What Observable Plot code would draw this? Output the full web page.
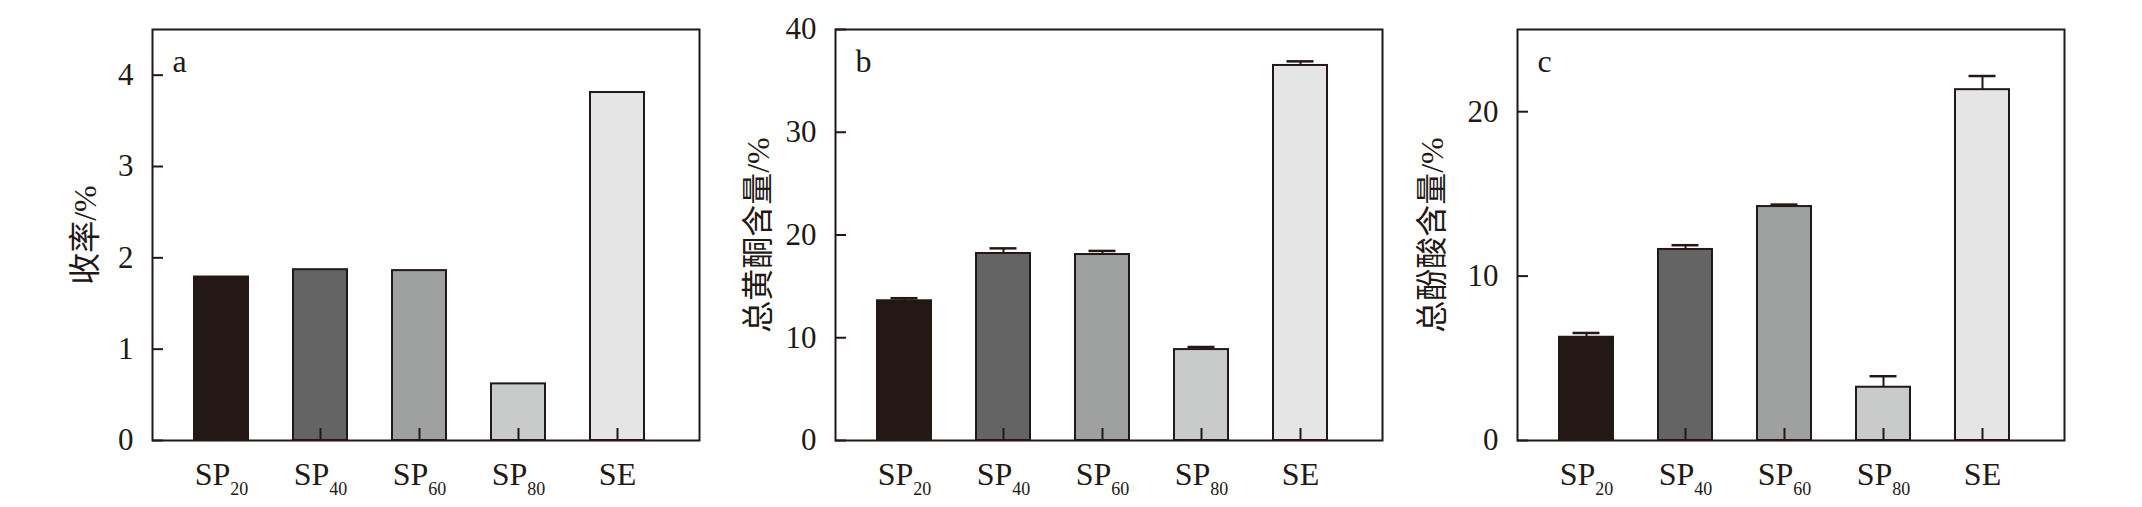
<!DOCTYPE html>
<html><head><meta charset="utf-8">
<script src="https://cdn.jsdelivr.net/npm/d3@7"></script>
<script src="https://cdn.jsdelivr.net/npm/@observablehq/plot@0.6"></script>
<style>
body{margin:0;background:#fff;}
#chart{position:relative;width:2142px;height:507px;overflow:hidden;background:#fff;}
#chart svg{position:absolute;top:0;}
</style></head><body><div id="chart"></div>
<script>
// ---- data ----
const categories = ["SP20", "SP40", "SP60", "SP80", "SE"];
const fills = ["#231816", "#656464", "#9fa0a0", "#c9caca", "#e5e5e5"];
const yieldValues = [1.79, 1.87, 1.86, 0.62, 3.81];
const flavonoidValues = [13.6, 18.2, 18.1, 8.85, 36.5];
const flavonoidErrors = [0.25, 0.5, 0.35, 0.25, 0.4];
const phenolicValues = [6.28, 11.62, 14.23, 3.24, 21.34];
const phenolicErrors = [0.26, 0.26, 0.12, 0.67, 0.83];
const panelLetters = ["a", "b", "c"];
const yLabels = ["收率/%", "总黄酮含量/%", "总酚酸含量/%"];
const yDomains = [[0, 4.5], [0, 40], [0, 25]];
const yTicks = [[0, 1, 2, 3, 4], [0, 10, 20, 30, 40], [0, 10, 20]];

const ink = "#231815";
const panels = [
  {values: yieldValues, errors: null, left: 27, labelOffset: 79},
  {values: flavonoidValues, errors: flavonoidErrors, left: 710, labelOffset: 89},
  {values: phenolicValues, errors: phenolicErrors, left: 1392, labelOffset: 97}
];

const root = document.getElementById("chart");
panels.forEach((p, i) => {
  const rows = categories.map((c, j) => ({cat: c, value: p.values[j], err: p.errors ? p.errors[j] : 0}));
  const errRows = p.errors ? rows : [];
  const svg = Plot.plot({
    width: 682, height: 507,
    marginLeft: 125, marginRight: 10, marginTop: 29, marginBottom: 67,
    style: {background: "transparent", fontFamily: "'Liberation Serif','Noto Sans CJK SC',serif", fontSize: "31px", color: ink},
    x: {type: "band", domain: categories, paddingInner: 0.45, paddingOuter: 0.47, align: 0.44},
    y: {domain: yDomains[i]},
    color: {type: "ordinal", domain: categories, range: fills},
    marks: [
      Plot.barY(rows, {x: "cat", y: "value", fill: "cat", stroke: ink, strokeWidth: 2}),
      Plot.ruleX(errRows, {x: "cat", y1: "value", y2: d => d.value + d.err, stroke: ink, strokeWidth: 2}),
      Plot.tickY(errRows, {x: "cat", y: d => d.value + d.err, stroke: ink, strokeWidth: 2.5, insetLeft: 13.5, insetRight: 13.5}),
      Plot.frame({stroke: ink, strokeWidth: 2}),
      Plot.axisY({ticks: yTicks[i], tickSize: -11, tickPadding: 30, tickFormat: d => String(d), strokeWidth: 2,
        label: yLabels[i], labelAnchor: "center", labelOffset: p.labelOffset, labelArrow: false}),
      Plot.axisX({tickSize: -12, tickPadding: 34, strokeWidth: 2, label: null}),
      Plot.text([panelLetters[i]], {frameAnchor: "top-left", text: d => d, dx: 20, dy: 42, lineAnchor: "bottom", fontSize: 32, fill: ink})
    ]
  });
  svg.style.left = p.left + "px";
  root.appendChild(svg);
  svg.querySelectorAll('[aria-label="y-axis label"] text').forEach(t => t.setAttribute("font-size", "32"));
  svg.querySelectorAll('[aria-label="x-axis tick label"] text').forEach(t => {
    const m = /^([A-Z]+)(\d+)$/.exec(t.textContent);
    t.setAttribute("font-size", "32");
    if (m) {
      t.textContent = m[1];
      const ts = document.createElementNS("http://www.w3.org/2000/svg", "tspan");
      ts.setAttribute("font-size", "18");
      ts.setAttribute("dy", "10");
      ts.textContent = m[2];
      t.appendChild(ts);
    }
  });
});
</script>
</body></html>
